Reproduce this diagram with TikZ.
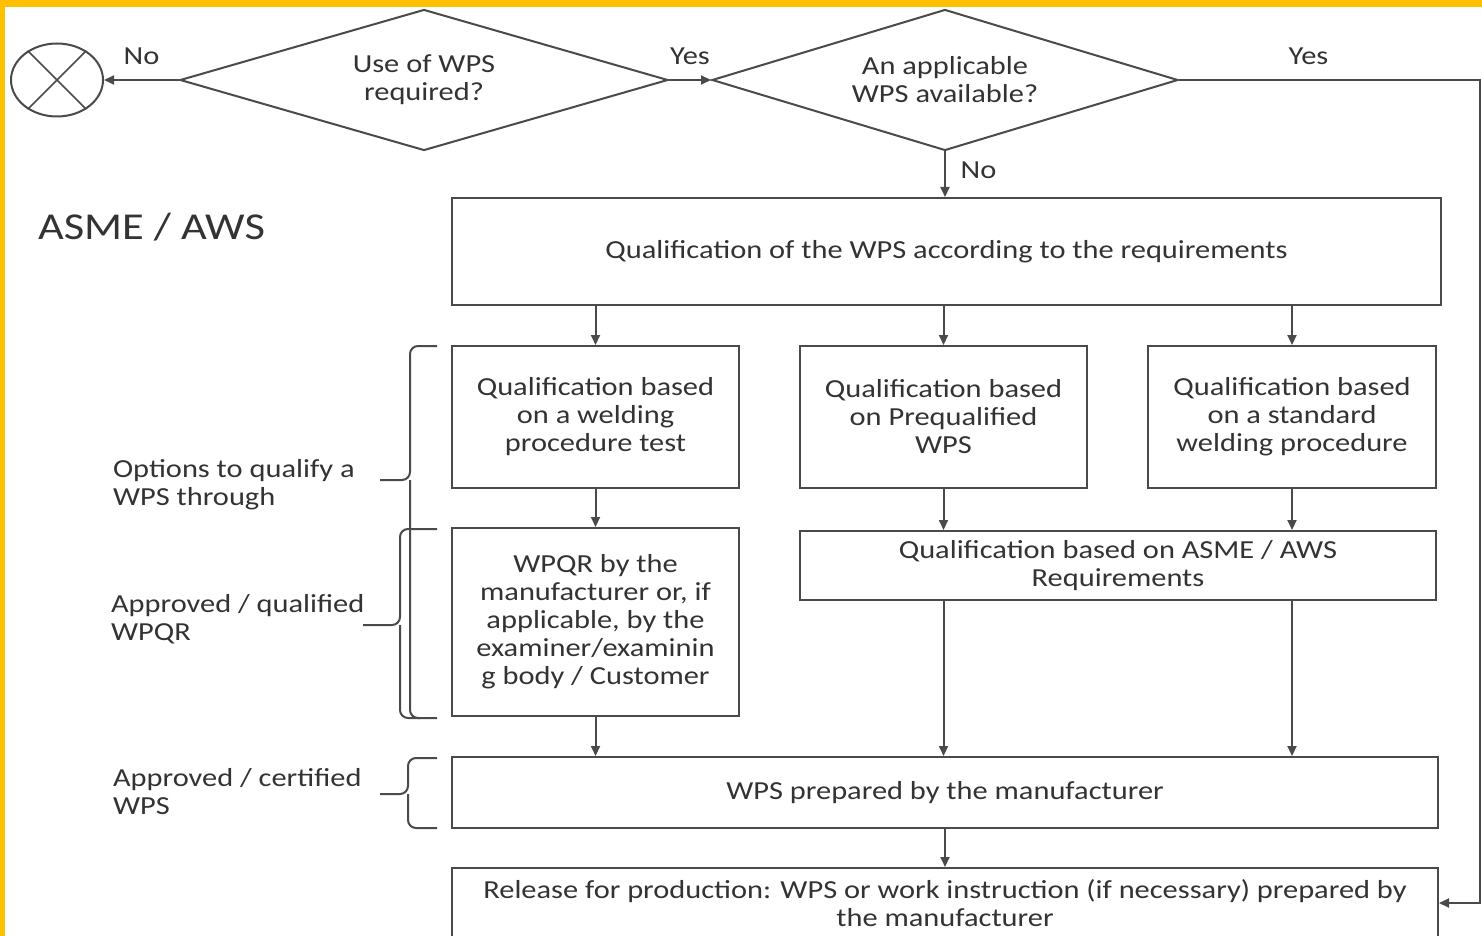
\documentclass[tikz,border=0pt]{standalone}
\usepackage{fontspec}
\setmainfont{Carlito}[FakeStretch=1.17]
\usepackage{xcolor}
\usetikzlibrary{arrows.meta, positioning, shapes.geometric}

\definecolor{linegray}{HTML}{4A4A4A}
\definecolor{textgray}{HTML}{333333}
\definecolor{frameyellow}{HTML}{FFC000}

\begin{document}
\begin{tikzpicture}[x=0.5pt, y=-0.5pt, >={Triangle[length=5pt, width=4.5pt]},
    every node/.style={text=textgray, font=\fontsize{13}{14}\selectfont},
    box/.style={draw=linegray, line width=1pt, rectangle, align=center, inner sep=0pt},
    decision/.style={draw=linegray, line width=1pt, diamond, aspect=3.5, inner sep=0pt, align=center},
    flow/.style={->, draw=linegray, line width=1pt},
    brace/.style={draw=linegray, line width=1pt, rounded corners=4pt},
    note/.style={anchor=west, align=left}]

        \fill[white] (0,0) rectangle (1482,936);
        \useasboundingbox (0,0) rectangle (1482,936);
        \fill[frameyellow] (0,0) rectangle (1482,7);
        \fill[frameyellow] (0,0) rectangle (5,936);

        \node[ellipse, draw=linegray, line width=1pt, minimum width=46pt, minimum height=36.5pt, inner sep=0pt] (stop) at (57,80) {};
        \draw[linegray, line width=0.8pt] (stop.135) -- (stop.-45) (stop.45) -- (stop.-135);

        \node[decision, minimum width=244pt, minimum height=70.5pt] (usewps) at (424,80) {Use of WPS\\required?};
        \node[decision, minimum width=233pt, minimum height=70.5pt] (avail) at (945,80) {An applicable\\WPS available?};

        \node[box, minimum width=494.5pt, minimum height=53.5pt] (qual) at (946.5,251.5) {Qualification of the WPS according to the requirements};
        \node[box, minimum width=143.5pt, minimum height=71pt] (optA) at (595.5,417) {Qualification based\\on a welding\\procedure test};
        \node[box, minimum width=143.5pt, minimum height=71pt, right=29.5pt of optA] (optB) {Qualification based\\on Prequalified\\WPS};
        \node[box, minimum width=144pt, minimum height=71pt, right=29.5pt of optB] (optC) {Qualification based\\on a standard\\welding procedure};
        \node[box, minimum width=143.5pt, minimum height=94pt, below=19pt of optA] (wpqr) {WPQR by the\\manufacturer or, if\\applicable, by the\\examiner/examinin\\g body / Customer};
        \node[box, minimum width=318pt, minimum height=34.5pt] (asme) at (1118,565.5) {Qualification based on ASME / AWS\\Requirements};
        \node[box, minimum width=493pt, minimum height=35.5pt] (wps) at (945,792.5) {WPS prepared by the manufacturer};
        \node[box, minimum width=493pt, minimum height=35pt, below=19pt of wps] (release) {Release for production: WPS or work instruction (if necessary) prepared by\\the manufacturer};

        \node[anchor=west, font=\fontsize{19}{22}\selectfont] (title) at (31,227) {ASME / AWS};
        \node[note] (optnote) at (106,485) {Options to qualify a\\WPS through};
        \node[note] (wpqrnote) at (104,619) {Approved / qualified\\WPQR};
        \node[note] (wpsnote) at (106,792) {Approved / certified\\WPS};

        \draw[flow] (usewps.west) -- node[above=4pt] {No} (stop.east);
        \draw[flow] (usewps.east) -- node[above=4pt] {Yes} (avail.west);
        \coordinate (corner) at (1480,80);
        \draw[flow] (avail.east) -- node[pos=0.43, above=4pt] {Yes} (corner) |- (release.east);
        \draw[flow] (avail.south) -- node[right=4pt, yshift=2pt] {No} (avail.south |- qual.north);

        \foreach \n in {optA, optB, optC}
            \draw[flow] (\n.north |- qual.south) -- (\n.north);
        \draw[flow] (optA) -- (wpqr);
        \foreach \n in {optB, optC}
            \draw[flow] (\n.south) -- (\n.south |- asme.north);
        \draw[flow] (wpqr.south) -- (wpqr.south |- wps.north);
        \foreach \n in {optB, optC}
            \draw[flow] (\n.south |- asme.south) -- (\n.south |- wps.north);
        \draw[flow] (wps) -- (release);

        \draw[brace] (437,346) -- (410,346) -- (410,480) -- (380,480);
        \draw[brace] (410,480) -- (410,718) -- (437,718);
        \draw[brace] (437,529) -- (400,529) -- (400,625) -- (363,625);
        \draw[brace] (400,625) -- (400,718) -- (420,718);
        \draw[brace] (437,758) -- (408,758) -- (408,794) -- (380,794);
        \draw[brace] (408,794) -- (408,828) -- (437,828);
    \end{tikzpicture}
\end{document}
